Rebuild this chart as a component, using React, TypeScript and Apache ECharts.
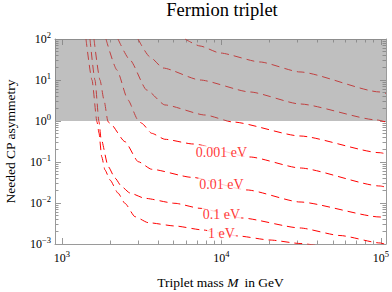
import React, { useEffect, useRef } from "react";
import * as echarts from "echarts";

// ---- axis ranges & ticks ----
const M_RANGE = [904, 107500];
const EPS_RANGE = [0.001, 100];
const X_MAJOR = [1e3, 1e4, 1e5];
const Y_MAJOR = [1e-3, 1e-2, 1e-1, 1, 10, 100];
const SHADE_FROM = 1; // |epsilon| > 1 region is shaded

// ---- curves (triplet mass M in GeV, needed CP asymmetry) ----
const M_1EV = [1414, 1542, 1657, 1706, 1774, 1860, 2000, 2244, 2483, 2869, 3476, 5111, 7656, 9786, 12690, 20140, 31060, 40000];
const EPS_1EV = [100, 10, 0.96, 0.51, 0.135, 0.064, 0.0364, 0.0175, 0.0098, 0.00463, 0.00331, 0.00275, 0.0022, 0.00185, 0.00157, 0.00125, 0.00103, 0.00092];

const M_01EV = [1498, 1610, 1706, 1756, 1951, 2149, 2368, 2669, 3315, 5111, 7333, 13447, 31060, 55340, 98560, 107470];
const EPS_01EV = [100, 10, 0.96, 0.378, 0.0768, 0.0407, 0.025, 0.0175, 0.013, 0.00983, 0.00743, 0.00431, 0.00246, 0.00161, 0.00106, 0.00097];

const M_001EV = [1587, 1731, 1834, 1943, 2000, 2483, 3009, 3651, 6505, 14454, 31060, 98560, 107470];
const EPS_001EV = [100, 10, 3.25, 0.96, 0.88, 0.313, 0.1017, 0.0664, 0.0423, 0.0208, 0.01058, 0.00456, 0.0043];

const M_0001EV = [1887, 2212, 2593, 2996, 3160, 3651, 4424, 6628, 15090, 31060, 98560, 107470];
const EPS_0001EV = [100, 17.5, 3.25, 1.06, 0.879, 0.501, 0.358, 0.275, 0.1324, 0.0714, 0.026, 0.0243];

const M_C5 = [2244, 2669, 3396, 4424, 7882, 11805, 31060, 98560, 107470];
const EPS_C5 = [100, 30.7, 5.7, 2.46, 1.4, 0.945, 0.431, 0.1685, 0.158];

const M_C6 = [2996, 3563, 4298, 7333, 15090, 31060, 94390, 107470];
const EPS_C6 = [100, 36.4, 19.6, 10, 5.1, 2.6, 1.06, 0.945];

const M_C7 = [5905, 7333, 9786, 17430, 31060, 98560, 107470];
const EPS_C7 = [100, 67.5, 45.6, 27.5, 15.7, 5.1, 4.7];

// ---- curve labels ----
const LABEL_TEXT = ["0.001 eV", "0.01 eV", "0.1 eV", "1 eV"];
const LABEL_M = [10000, 10000, 10000, 10000];
const LABEL_EPS = [0.17, 0.0286, 0.0051, 0.00182];

const FONT = "'Liberation Serif', 'Times New Roman', serif";
const RED = "#ff0000";
const FRAME = "#9a9a9a";

function minorTicks(lo: number, hi: number): number[] {
  const out: number[] = [];
  for (let n = -4; n <= 6; n++) {
    for (let k = 2; k <= 9; k++) {
      const v = parseFloat((k * Math.pow(10, n)).toPrecision(6));
      if (v >= lo && v <= hi) out.push(v);
    }
  }
  return out;
}
const X_MINOR = minorTicks(M_RANGE[0], M_RANGE[1]);
const Y_MINOR = minorTicks(EPS_RANGE[0], EPS_RANGE[1]);

function powLabel(v: number): string {
  const e = Math.round(Math.log10(v));
  return `{b|10}{s|${e < 0 ? "\u2212" + -e : e}}`;
}

const RICH = {
  b: { fontFamily: FONT, fontSize: 12, color: "#000", lineHeight: 18 },
  s: { fontFamily: FONT, fontSize: 8.5, color: "#000", lineHeight: 9, verticalAlign: "top" },
};

function makeAxes(kind: "x" | "y") {
  const common: any = {
    type: "log",
    logBase: 10,
    min: kind === "x" ? M_RANGE[0] : EPS_RANGE[0],
    max: kind === "x" ? M_RANGE[1] : EPS_RANGE[1],
    splitLine: { show: false },
    minorTick: { show: false },
    minorSplitLine: { show: false },
    silent: true,
  };
  const major = kind === "x" ? X_MAJOR : Y_MAJOR;
  const minor = kind === "x" ? X_MINOR : Y_MINOR;
  const p1 = kind === "x" ? "bottom" : "left";
  const p2 = kind === "x" ? "top" : "right";
  const line = { show: true, lineStyle: { color: FRAME, width: 1 } };
  const majTick = { show: true, inside: true, length: 6, customValues: major, lineStyle: { color: FRAME, width: 1 } };
  const minTick = { show: true, inside: true, length: 3.5, customValues: minor, lineStyle: { color: FRAME, width: 1 } };
  const nameStyle = {
    fontFamily: FONT,
    fontSize: 13.5,
    color: "#000",
    rich: {
      n: { fontFamily: FONT, fontSize: 13.5, color: "#000" },
      i: { fontFamily: FONT, fontSize: 13.5, color: "#000", fontStyle: "italic" },
    },
  };
  return [
    {
      ...common,
      position: p1,
      axisLine: line,
      axisTick: majTick,
      axisLabel: {
        show: true,
        customValues: major,
        formatter: powLabel,
        rich: RICH,
        margin: kind === "x" ? 5 : 4,
      },
      name: kind === "x" ? "{n|Triplet mass }{i|M}{n|\u2009 in GeV}" : "Needed CP asymmetry",
      nameLocation: "middle",
      nameGap: kind === "x" ? 31 : 38,
      nameTextStyle: nameStyle,
    },
    { ...common, position: p1, axisLine: { show: false }, axisTick: minTick, axisLabel: { show: false } },
    { ...common, position: p2, axisLine: line, axisTick: majTick, axisLabel: { show: false } },
    { ...common, position: p2, axisLine: { show: false }, axisTick: minTick, axisLabel: { show: false } },
  ];
}

const CURVES = [
  [M_1EV, EPS_1EV],
  [M_01EV, EPS_01EV],
  [M_001EV, EPS_001EV],
  [M_0001EV, EPS_0001EV],
  [M_C5, EPS_C5],
  [M_C6, EPS_C6],
  [M_C7, EPS_C7],
];

export default function App() {
  const ref = useRef<HTMLDivElement>(null);
  useEffect(() => {
    if (!ref.current) return;
    const chart = echarts.init(ref.current, null, { renderer: "svg" });
    const series: any[] = CURVES.map(([ms, es]) => ({
      type: "line",
      xAxisIndex: 0,
      yAxisIndex: 0,
      data: ms.map((m, i) => [m, es[i]]),
      symbol: "none",
      smooth: 0.2,
      smoothMonotone: "x",
      lineStyle: { color: RED, width: 1, type: [8, 5] },
      z: 2,
      silent: true,
    }));
    series.push({
      type: "line",
      xAxisIndex: 0,
      yAxisIndex: 0,
      data: [
        [M_RANGE[0], SHADE_FROM],
        [M_RANGE[1], SHADE_FROM],
      ],
      symbol: "none",
      lineStyle: { width: 0, opacity: 0 },
      areaStyle: { color: "rgba(128,128,128,0.5)", origin: "end", opacity: 1 },
      z: 4,
      silent: true,
    });
    series.push({
      type: "scatter",
      xAxisIndex: 0,
      yAxisIndex: 0,
      data: LABEL_TEXT.map((t, i) => [LABEL_M[i], LABEL_EPS[i], t]),
      symbolSize: 0,
      label: {
        show: true,
        position: "inside",
        formatter: (p: any) => p.data[2],
        color: RED,
        fontFamily: FONT,
        fontSize: 14,
        backgroundColor: "#fff",
        padding: [0, 1],
      },
      z: 5,
      silent: true,
    });
    chart.setOption({
      animation: false,
      backgroundColor: "#fff",
      grid: { left: 55, right: 6, top: 39, bottom: 48, containLabel: false, outerBoundsMode: "none" },
      xAxis: makeAxes("x"),
      yAxis: makeAxes("y"),
      graphic: [
        {
          type: "text",
          x: 222,
          y: 0,
          style: {
            text: "Fermion triplet",
            fontFamily: FONT,
            fontSize: 18.5,
            fill: "#000",
            align: "center",
            verticalAlign: "top",
          },
        },
      ],
      series,
    });
    return () => chart.dispose();
  }, []);
  return <div ref={ref} style={{ position: "fixed", left: 0, top: 0, width: 392, height: 292 }} />;
}
